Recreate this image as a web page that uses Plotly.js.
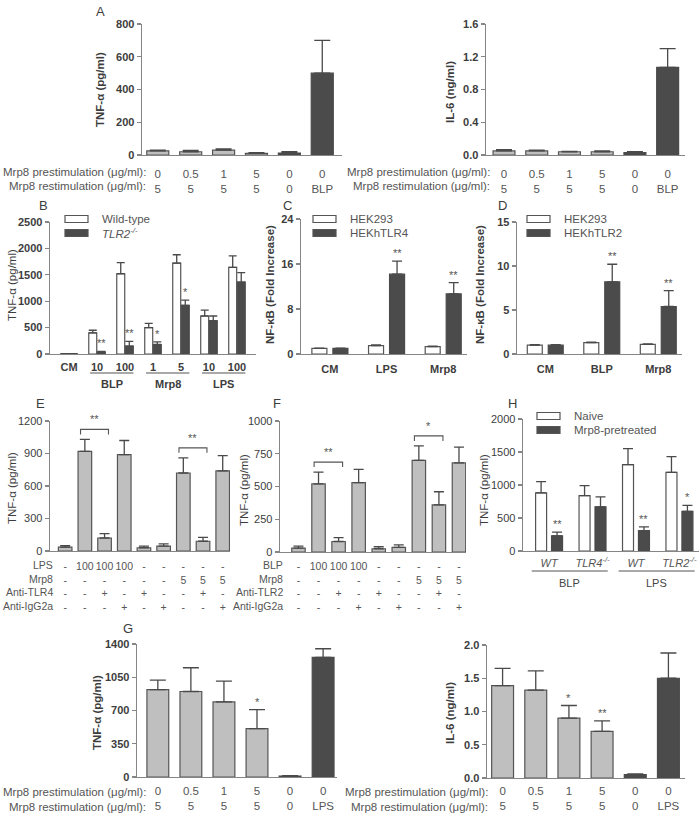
<!DOCTYPE html>
<html>
<head>
<meta charset="utf-8">
<script src="https://cdn.plot.ly/plotly-3.0.1.min.js"></script>
<style>
  body { margin: 0; background: #fff; overflow: hidden; }
  #fig { width: 700px; height: 816px; }
</style>
</head>
<body>
<div id="fig"></div>
<script>
// ---------------- data ----------------
// A: Mrp8 pre/restimulation
const aPre = ['0', '0.5', '1', '5', '0', '0'];
const aRe = ['5', '5', '5', '5', '0', 'BLP'];
const aTnf = [25, 20, 30, 10, 12, 500];
const aTnfErr = [5, 8, 7, 4, 8, 200];
const aIl6 = [0.05, 0.05, 0.04, 0.04, 0.03, 1.07];
const aIl6Err = [0.015, 0.01, 0.005, 0.01, 0.01, 0.23];
const aDark = [false, false, false, false, true, true];

// B: wild-type vs TLR2-/-
const bTicks = ['CM', '10', '100', '1', '5', '10', '100'];
const bGroups = ['BLP', 'Mrp8', 'LPS'];
const bGroupIdx = [[1, 2], [3, 4], [5, 6]];
const bWt = [5, 400, 1520, 500, 1720, 720, 1640];
const bWtErr = [3, 50, 210, 80, 160, 110, 220];
const bKo = [5, 40, 150, 180, 920, 630, 1360];
const bKoErr = [3, 10, 90, 50, 100, 90, 180];
const bKoSig = ['', '**', '**', '*', '*', '', ''];

// C: HEK293 vs HEKhTLR4
const cTicks = ['CM', 'LPS', 'Mrp8'];
const cHek = [1.0, 1.5, 1.3];
const cHekErr = [0.05, 0.1, 0.1];
const cTlr4 = [1.0, 14.2, 10.7];
const cTlr4Err = [0.05, 2.3, 2.0];
const cSig = ['', '**', '**'];

// D: HEK293 vs HEKhTLR2
const dTicks = ['CM', 'BLP', 'Mrp8'];
const dHek = [1.0, 1.3, 1.1];
const dHekErr = [0.05, 0.05, 0.05];
const dTlr2 = [1.0, 8.2, 5.4];
const dTlr2Err = [0.05, 2.0, 1.8];
const dSig = ['', '**', '**'];

// E: anti-TLR4 blocking
const eRowNames = ['LPS', 'Mrp8', 'Anti-TLR4', 'Anti-IgG2a'];
const eLps = ['-', '100', '100', '100', '-', '-', '-', '-', '-'];
const eMrp8 = ['-', '-', '-', '-', '-', '-', '5', '5', '5'];
const eAntiTlr4 = ['-', '-', '+', '-', '+', '-', '-', '+', '-'];
const eAntiIgg = ['-', '-', '-', '+', '-', '+', '-', '-', '+'];
const eTnf = [35, 920, 120, 890, 30, 45, 720, 90, 740];
const eTnfErr = [15, 110, 40, 130, 15, 20, 140, 35, 140];
const eBrackets = [[1, 2, '**'], [6, 7, '**']];

// F: anti-TLR2 blocking
const fRowNames = ['BLP', 'Mrp8', 'Anti-TLR2', 'Anti-IgG2a'];
const fBlp = ['-', '100', '100', '100', '-', '-', '-', '-', '-'];
const fMrp8 = ['-', '-', '-', '-', '-', '-', '5', '5', '5'];
const fAntiTlr2 = ['-', '-', '+', '-', '+', '-', '-', '+', '-'];
const fAntiIgg = ['-', '-', '-', '+', '-', '+', '-', '-', '+'];
const fTnf = [30, 520, 80, 530, 25, 35, 700, 360, 680];
const fTnfErr = [15, 90, 30, 100, 15, 20, 110, 100, 120];
const fBrackets = [[1, 2, '**'], [6, 7, '*']];

// H: naive vs Mrp8-pretreated mice
const hTicks = ['WT', 'TLR4<sup>-/-</sup>', 'WT', 'TLR2<sup>-/-</sup>'];
const hGroups = ['BLP', 'LPS'];
const hGroupIdx = [[0, 1], [2, 3]];
const hNaive = [880, 840, 1310, 1190];
const hNaiveErr = [170, 150, 240, 240];
const hPre = [230, 670, 310, 600];
const hPreErr = [55, 150, 55, 90];
const hSig = ['**', '', '**', '*'];

// G: Mrp8 pre/restimulation with LPS
const gPre = ['0', '0.5', '1', '5', '0', '0'];
const gRe = ['5', '5', '5', '5', '0', 'LPS'];
const gTnf = [920, 900, 790, 510, 10, 1260];
const gTnfErr = [100, 250, 220, 200, 3, 90];
const gTnfSig = ['', '', '', '*', '', ''];
const gIl6 = [1.39, 1.32, 0.90, 0.70, 0.05, 1.50];
const gIl6Err = [0.26, 0.29, 0.19, 0.16, 0.01, 0.38];
const gIl6Sig = ['', '', '*', '**', '', ''];
const gDark = [false, false, false, false, true, true];

// ---------------- style ----------------
const FONT = '"Liberation Sans", Arial, sans-serif';
const INK = '#3d3d3d';
const AXC = '#858585';
const LIGHT = '#bfbfbf';
const DARK = '#4b4b4b';
const EDGE = '#555555';
const W = 700, H = 816;
const fx = p => p / W;
const fy = p => 1 - p / H;

const layout = {
    width: W, height: H,
    margin: { l: 0, r: 0, t: 0, b: 0 },
    paper_bgcolor: '#ffffff', plot_bgcolor: 'rgba(0,0,0,0)',
    showlegend: false, barmode: 'overlay',
    font: { family: FONT, color: INK },
    annotations: [], shapes: []
};
const traces = [];
const boxes = {};

function font(size, bold, extra) {
    return Object.assign({ family: FONT, size: size, color: INK, weight: bold ? 'bold' : 'normal' }, extra || {});
}

// box = [left, right, top, bottom] in pixels
function panel(n, box, xr, yr, yStep, yFmt, yBold, xText, xFont, xLen) {
    const id = n === 1 ? '' : n;
    boxes[n] = { box: box, xr: xr, yr: yr };
    const yv = [];
    for (let v = yr[0]; v <= yr[1] + 1e-9; v += yStep) yv.push(+v.toFixed(4));
    layout['xaxis' + id] = {
        domain: [fx(box[0]), fx(box[1])], range: xr, anchor: 'y' + id,
        showline: true, linecolor: AXC, linewidth: 1.4, zeroline: false, showgrid: false,
        ticks: 'outside', ticklen: xLen, tickcolor: 'rgba(0,0,0,0)',
        tickvals: xText.map((_, i) => i), ticktext: xText, tickfont: xFont, fixedrange: true
    };
    layout['yaxis' + id] = {
        domain: [fy(box[3]), fy(box[2])], range: yr, anchor: 'x' + id,
        showline: true, linecolor: AXC, linewidth: 1.4, zeroline: false, showgrid: false,
        ticks: 'outside', ticklen: 4, tickcolor: AXC, tickwidth: 1.3,
        tickvals: yv, ticktext: yv.map(v => v.toFixed(yFmt)), tickfont: font(11, yBold), fixedrange: true
    };
}

function bars(n, ys, errs, fill, edge, width, offset, cap) {
    const id = n === 1 ? '' : n;
    const t = {
        type: 'bar', x: ys.map((_, i) => i), y: ys, xaxis: 'x' + id, yaxis: 'y' + id,
        width: width, marker: { color: fill, line: { color: edge, width: 1.2 } },
        error_y: { type: 'data', symmetric: false, array: errs, arrayminus: errs.map(() => 0),
                   color: '#4a4a4a', thickness: 1.3, width: cap },
        hoverinfo: 'skip'
    };
    if (offset !== undefined) t.offset = offset;
    traces.push(t);
}

function stars(n, shift, ys, errs, sig, size) {
    const id = n === 1 ? '' : n;
    sig.forEach((s, i) => {
        if (!s) return;
        layout.annotations.push({ xref: 'x' + id, yref: 'y' + id, x: i + shift, y: ys[i] + errs[i],
            yanchor: 'bottom', text: s, showarrow: false, font: font(size || 11, false, { color: '#555' }) });
    });
}

function text(x, y, s, f, opt) {
    layout.annotations.push(Object.assign({ xref: 'paper', yref: 'paper', x: fx(x), y: fy(y),
        text: s, showarrow: false, font: f, xanchor: 'center', yanchor: 'middle' }, opt || {}));
}

function ytitle(x, y, s, bold) {
    text(x, y, s, font(11.5, bold), { textangle: -90 });
}

// row captions to the left of the tick-label table, one per line
function rowNames(xRight, yFirst, step, names, size) {
    names.forEach((s, k) => text(xRight, yFirst + k * step, s, font(size, false, { color: '#555' }), { xanchor: 'right' }));
}

function legendBox(x0, y0, fill, label) {
    layout.shapes.push({ type: 'rect', xref: 'paper', yref: 'paper', x0: fx(x0), x1: fx(x0 + 23),
        y0: fy(y0 + 3.5), y1: fy(y0 - 3.5), fillcolor: fill, line: { color: EDGE, width: 1.2 } });
    text(x0 + 35, y0, label, font(11.5, false, { color: '#555' }), { xanchor: 'left' });
}

function groupLines(n, idx, labels, yLine, yLabel, padL, padR, f) {
    const id = n === 1 ? '' : n;
    idx.forEach((g, k) => {
        layout.shapes.push({ type: 'line', xref: 'x' + id, yref: 'paper', x0: g[0] - padL, x1: g[g.length - 1] + padR,
            y0: fy(yLine), y1: fy(yLine), line: { color: '#555', width: 1.1 } });
        layout.annotations.push({ xref: 'x' + id, yref: 'paper', x: (g[0] - padL + g[g.length - 1] + padR) / 2,
            y: fy(yLabel), text: labels[k], showarrow: false, font: f, yanchor: 'middle' });
    });
}

function brackets(n, list, ys, errs, size) {
    const id = n === 1 ? '' : n;
    const b = boxes[n];
    const perPx = (b.yr[1] - b.yr[0]) / (b.box[3] - b.box[2]);
    list.forEach(([i, j, s]) => {
        const top = Math.max(ys[i] + errs[i], ys[j] + errs[j]) + 10 * perPx;
        const foot = top - 5 * perPx;
        const x0 = i - 0.22, x1 = j + 0.2;
        layout.shapes.push({ type: 'path', xref: 'x' + id, yref: 'y' + id,
            path: `M ${x0},${foot} L ${x0},${top} L ${x1},${top} L ${x1},${foot}`,
            line: { color: '#555', width: 1.1 } });
        layout.annotations.push({ xref: 'x' + id, yref: 'y' + id, x: (x0 + x1) / 2, y: top + 2 * perPx,
            yanchor: 'bottom', text: s, showarrow: false, font: font(size, false, { color: '#555' }) });
    });
}

const fillOf = dark => dark.map(d => d ? DARK : LIGHT);
const edgeOf = dark => dark.map(d => d ? DARK : EDGE);
const tickLines = (...rows) => rows[0].map((_, i) => rows.map(r => r[i]).join('<br>'));
const stimNames = ['Mrp8 prestimulation (μg/ml):', 'Mrp8 restimulation (μg/ml):'];

// ---------------- A ----------------
panel(1, [142, 342, 24, 155], [-0.48, 5.6], [0, 800], 200, 0, true,
      tickLines(aPre, aRe), font(11.5, false, { color: '#555' }), 8);
bars(1, aTnf, aTnfErr, fillOf(aDark), edgeOf(aDark), 0.67, undefined, 8);
panel(2, [486, 685, 24, 155], [-0.55, 5.53], [0, 1.6], 0.4, 1, true,
      tickLines(aPre, aRe), font(11.5, false, { color: '#555' }), 8);
bars(2, aIl6, aIl6Err, fillOf(aDark), edgeOf(aDark), 0.67, undefined, 8);
ytitle(100, 90, 'TNF-α (pg/ml)', true);
ytitle(450, 92, 'IL-6 (ng/ml)', true);
rowNames(148, 171.5, 15, stimNames, 11.5);
rowNames(492, 171.5, 15, stimNames, 11.5);
text(100, 12, 'A', font(13));

// ---------------- B ----------------
panel(3, [50, 256, 222, 354], [-0.68, 6.68], [0, 2500], 500, 0, true,
      bTicks, font(11, true), 2);
bars(3, bWt, bWtErr, '#ffffff', EDGE, 0.285, -0.295, 4);
bars(3, bKo, bKoErr, DARK, DARK, 0.285, 0.01, 4);
stars(3, 0.15, bKo, bKoErr, bKoSig, 11);
groupLines(3, bGroupIdx, bGroups, 373, 384, 0.25, 0.3, font(11, true));
ytitle(12, 285, 'TNF-α (pg/ml)', false);
legendBox(65, 219, '#ffffff', 'Wild-type');
legendBox(65, 233, DARK, '<i>TLR2<sup>-/-</sup></i>');
text(43, 205, 'B', font(13));

// ---------------- C ----------------
panel(4, [301, 467, 219, 354], [-0.51, 2.42], [0, 24], 8, 0, true,
      cTicks, font(11, true), 4);
bars(4, cHek, cHekErr, '#ffffff', EDGE, 0.265, -0.318, 5);
bars(4, cTlr4, cTlr4Err, DARK, DARK, 0.265, 0.053, 5);
stars(4, 0.186, cTlr4, cTlr4Err, cSig, 11);
ytitle(270, 285, 'NF-κB (Fold Increase)', true);
legendBox(313, 219, '#ffffff', 'HEK293');
legendBox(313, 233, DARK, 'HEKhTLR4');
text(287, 205, 'C', font(13));

// ---------------- D ----------------
panel(5, [517, 682, 222, 354], [-0.5, 2.42], [0, 15], 5, 0, true,
      dTicks, font(11, true), 4);
bars(5, dHek, dHekErr, '#ffffff', EDGE, 0.265, -0.318, 5);
bars(5, dTlr2, dTlr2Err, DARK, DARK, 0.265, 0.053, 5);
stars(5, 0.186, dTlr2, dTlr2Err, dSig, 11);
ytitle(480, 285, 'NF-κB (Fold Increase)', true);
legendBox(527, 219, '#ffffff', 'HEK293');
legendBox(527, 233, DARK, 'HEKhTLR2');
text(502, 205, 'D', font(13));

// ---------------- E ----------------
panel(6, [50, 230, 421, 551], [-0.77, 8.37], [0, 1200], 300, 0, false,
      tickLines(eLps, eMrp8, eAntiTlr4, eAntiIgg), font(10.5, false, { color: '#555' }), 5);
bars(6, eTnf, eTnfErr, LIGHT, EDGE, 0.69, undefined, 5);
brackets(6, eBrackets, eTnf, eTnfErr, 11);
ytitle(12, 488, 'TNF-α (pg/ml)', false);
rowNames(55, 565, 13.65, eRowNames, 10.5);
text(40, 403, 'E', font(13));

// ---------------- F ----------------
panel(7, [280, 466, 421, 552], [-0.92, 8.35], [0, 1000], 250, 0, false,
      tickLines(fBlp, fMrp8, fAntiTlr2, fAntiIgg), font(10.5, false, { color: '#555' }), 4);
bars(7, fTnf, fTnfErr, LIGHT, EDGE, 0.67, undefined, 5);
brackets(7, fBrackets, fTnf, fTnfErr, 11);
ytitle(244, 490, 'TNF-α (pg/ml)', false);
rowNames(285, 565, 13.65, fRowNames, 10.5);
text(277, 403, 'F', font(13));

// ---------------- H ----------------
panel(8, [523, 699, 419, 551], [-0.6, 3.45], [0, 2000], 500, 0, false,
      hTicks, font(11, false, { color: '#555', style: 'italic' }), 1);
bars(8, hNaive, hNaiveErr, '#ffffff', EDGE, 0.253, -0.31, 5);
bars(8, hPre, hPreErr, DARK, DARK, 0.253, 0.057, 5);
stars(8, 0.183, hPre, hPreErr, hSig, 11);
groupLines(8, hGroupIdx, hGroups, 571, 583, 0.4, 0.35, font(11, false, { color: '#444' }));
ytitle(484, 490, 'TNF-α (pg/ml)', false);
legendBox(537, 416, '#ffffff', 'Naive');
legendBox(537, 430, DARK, 'Mrp8-pretreated');
text(512, 403, 'H', font(13));

// ---------------- G ----------------
panel(9, [137, 337, 644, 777], [-0.63, 5.42], [0, 1400], 350, 0, true,
      tickLines(gPre, gRe), font(11.5, false, { color: '#555' }), 3);
bars(9, gTnf, gTnfErr, fillOf(gDark), edgeOf(gDark), 0.66, undefined, 8);
stars(9, 0, gTnf, gTnfErr, gTnfSig, 11);
panel(10, [487, 685, 645, 778], [-0.47, 5.5], [0, 2.0], 0.5, 1, true,
      tickLines(gPre, gRe), font(11.5, false, { color: '#555' }), 2);
bars(10, gIl6, gIl6Err, fillOf(gDark), edgeOf(gDark), 0.66, undefined, 8);
stars(10, 0, gIl6, gIl6Err, gIl6Sig, 11);
ytitle(97, 713, 'TNF-α (pg/ml)', true);
ytitle(450, 713, 'IL-6 (ng/ml)', true);
rowNames(148, 791.5, 15, stimNames, 11.5);
rowNames(490, 791.5, 15, stimNames, 11.5);
text(128, 628, 'G', font(13));

Plotly.newPlot('fig', traces, layout, { displayModeBar: false, staticPlot: true });
</script>
</body>
</html>
